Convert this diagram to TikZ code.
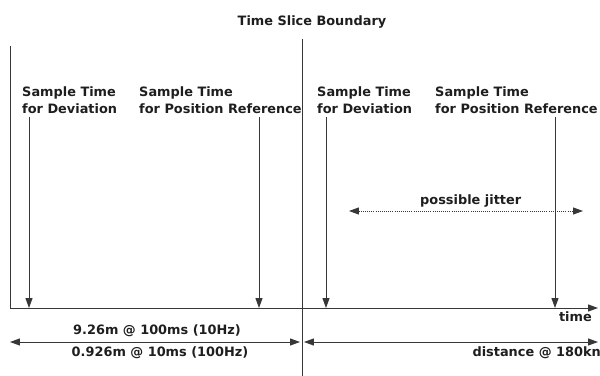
\documentclass[tikz,border=0pt]{standalone}
\usepackage{fontspec}
\setmainfont{DejaVu Sans}
\usepackage{tikz}
\usetikzlibrary{arrows.meta,positioning}
\definecolor{lineclr}{RGB}{55,55,55}
\definecolor{textclr}{RGB}{30,30,30}

\begin{document}
\begin{tikzpicture}[x=0.03cm, y=-0.03cm,
    font=\fontsize{11}{14.5}\selectfont\bfseries, text=textclr,
    line/.style={draw=lineclr, line width=0.8pt},
    arr/.style={line, -{Triangle[length=8.5pt,width=6pt]}},
    darr/.style={line, {Triangle[length=8.5pt,width=6pt]}-{Triangle[length=8.5pt,width=6pt]}},
    lbl/.style={align=left, anchor=north west, inner sep=0pt}]
  \useasboundingbox (0,0) rectangle (600,376);

  \node (tsb) at (312,22) {Time Slice Boundary};

  % frame lines
  \coordinate (lt) at (10,46);
  \coordinate (org) at (10,308);
  \coordinate (tend) at (598,308);
  \coordinate (bt) at (302,39);
  \coordinate (bb) at (302,376);
  \draw[line] (lt) -- (org);
  \draw[line] (bt) -- (bb);
  \draw[arr] (org) -- (tend);
  \node[anchor=north east, inner sep=0pt] (time) at (592,311) {time};

  % sample labels
  \node[lbl] (dev1) at (22,86) {Sample Time\\for Deviation};
  \node[lbl] (pos1) at (139,86) {Sample Time\\for Position Reference};
  \node[lbl] (dev2) at (317,86) {Sample Time\\for Deviation};
  \node[lbl] (pos2) at (435,86) {Sample Time\\for Position Reference};

  \foreach \n/\x in {a/29, b/259, c/326, d/555}{
    \coordinate (s\n) at (\x,117);
    \coordinate (e\n) at (\x,308);
    \draw[arr] (s\n) -- (e\n);
  }

  % jitter
  \coordinate (j1) at (349,211);
  \coordinate (j2) at (583,211);
  \draw[darr, densely dotted] (j1) -- node[above=3pt, inner sep=0pt, xshift=4] (jit) {possible jitter} (j2);

  % distances
  \coordinate (l1) at (10,342);
  \coordinate (l2) at (300,342);
  \coordinate (r1) at (304,342);
  \coordinate (r2) at (598,342);
  \draw[darr] (l1) -- (l2);
  \draw[darr] (r1) -- (r2);
  \node (d10) at (157,331) {9.26m @ 100ms (10Hz)};
  \node (d100) at (160,353) {0.926m @ 10ms (100Hz)};
  \node[anchor=east, inner sep=0pt] (dkn) at (601,353) {distance @ 180kn};
\end{tikzpicture}
\end{document}
